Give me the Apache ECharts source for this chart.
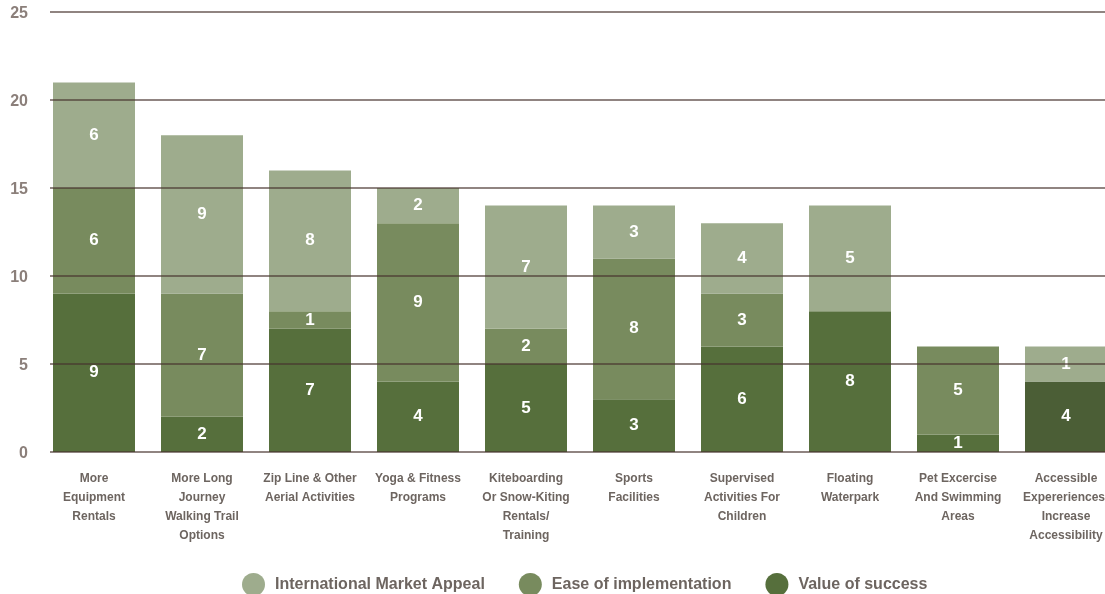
<!DOCTYPE html>
<html>
<head>
<meta charset="utf-8">
<script src="https://cdn.jsdelivr.net/npm/echarts@6/dist/echarts.min.js"></script>
<style>
html,body{margin:0;padding:0;background:#fff;overflow:hidden;}
#chart{width:1120px;height:594px;}
</style>
</head>
<body>
<div id="chart"></div>
<script>
const categories = [
  "More\nEquipment\nRentals",
  "More Long\nJourney\nWalking Trail\nOptions",
  "Zip Line & Other\nAerial Activities",
  "Yoga & Fitness\nPrograms",
  "Kiteboarding\nOr Snow-Kiting\nRentals/\nTraining",
  "Sports\nFacilities",
  "Supervised\nActivities For\nChildren",
  "Floating\nWaterpark",
  "Pet Excercise\nAnd Swimming\nAreas",
  "Accessible\nExpereriences-\nIncrease\nAccessibility"
];
// segment heights as drawn
const valueOfSuccess = [9, 2, 7, 4, 5, 3, 6, 8, 1, 4];
const easeOfImplementation = [6, 7, 1, 9, 2, 8, 3, 0, 5, 0];
const marketAppeal = [6, 9, 8, 2, 7, 3, 4, 6, 0, 2];
// numbers printed on the light segments in the original
const marketAppealLabels = [6, 9, 8, 2, 7, 3, 4, 5, 0, 1];
const yTicks = [0, 5, 10, 15, 20, 25];

const FONT = '"Liberation Sans Narrow", "Liberation Sans", sans-serif';
const C_LIGHT = '#9eac8d', C_MID = '#788b5e', C_DARK = '#566f3c', C_DARKER = '#4b5e36';

const labelCfg = (arr) => ({
  show: true,
  position: 'inside',
  color: '#ffffff',
  fontFamily: FONT,
  fontWeight: 'bold',
  fontSize: 17,
  formatter: p => { const v = arr[p.dataIndex]; return v ? String(v) : ''; }
});

const chart = echarts.init(document.getElementById('chart'), null, {renderer: 'canvas'});
chart.setOption({
  animation: false,
  backgroundColor: '#ffffff',
  grid: [
    {left: 40, right: 0, top: 12, bottom: 142, containLabel: false},
    {left: 50, right: 0, top: 12, bottom: 142, containLabel: false}
  ],
  legend: {
    data: ['International Market Appeal', 'Ease of implementation', 'Value of success'],
    top: 568,
    left: 237,
    icon: 'circle',
    itemWidth: 23,
    itemHeight: 23,
    itemGap: 34,
    textStyle: {color: '#6d6560', fontFamily: FONT, fontWeight: 'bold', fontSize: 16, padding: [0, 0, 0, 5]}
  },
  xAxis: [
    {
      type: 'category', gridIndex: 0, data: categories,
      axisLine: {show: false}, axisTick: {show: false},
      axisLabel: {
        interval: 0, margin: 17, lineHeight: 19,
        color: '#6d6560', fontFamily: FONT, fontWeight: 'bold', fontSize: 12, align: 'center'
      }
    },
    {type: 'value', gridIndex: 1, min: 0, max: 1, show: false}
  ],
  yAxis: [
    {type: 'value', gridIndex: 0, min: 0, max: 25, interval: 5, show: false},
    {
      type: 'value', gridIndex: 1, min: 0, max: 25, interval: 5, z: 10,
      axisLine: {show: false}, axisTick: {show: false},
      splitLine: {show: true, lineStyle: {color: 'rgba(70,50,45,0.6)', width: 2}},
      axisLabel: {
        margin: 22, color: '#8b7f7a', fontFamily: FONT, fontWeight: 'bold', fontSize: 16,
        verticalAlign: 'top', padding: [-6, 0, 0, 0],
        formatter: v => yTicks.includes(v) ? String(v) : ''
      }
    }
  ],
  series: [
    {
      name: 'Value of success', type: 'bar', stack: 'total', xAxisIndex: 0, yAxisIndex: 0,
      barWidth: 82,
      itemStyle: {color: C_DARK},
      data: valueOfSuccess.map((v, i) => i === valueOfSuccess.length - 1 ? {value: v, itemStyle: {color: C_DARKER}} : v),
      label: labelCfg(valueOfSuccess)
    },
    {
      name: 'Ease of implementation', type: 'bar', stack: 'total', xAxisIndex: 0, yAxisIndex: 0,
      barWidth: 82,
      itemStyle: {color: C_MID},
      data: easeOfImplementation,
      label: labelCfg(easeOfImplementation)
    },
    {
      name: 'International Market Appeal', type: 'bar', stack: 'total', xAxisIndex: 0, yAxisIndex: 0,
      barWidth: 82,
      itemStyle: {color: C_LIGHT},
      data: marketAppeal,
      label: labelCfg(marketAppealLabels)
    }
  ]
});
</script>
</body>
</html>
